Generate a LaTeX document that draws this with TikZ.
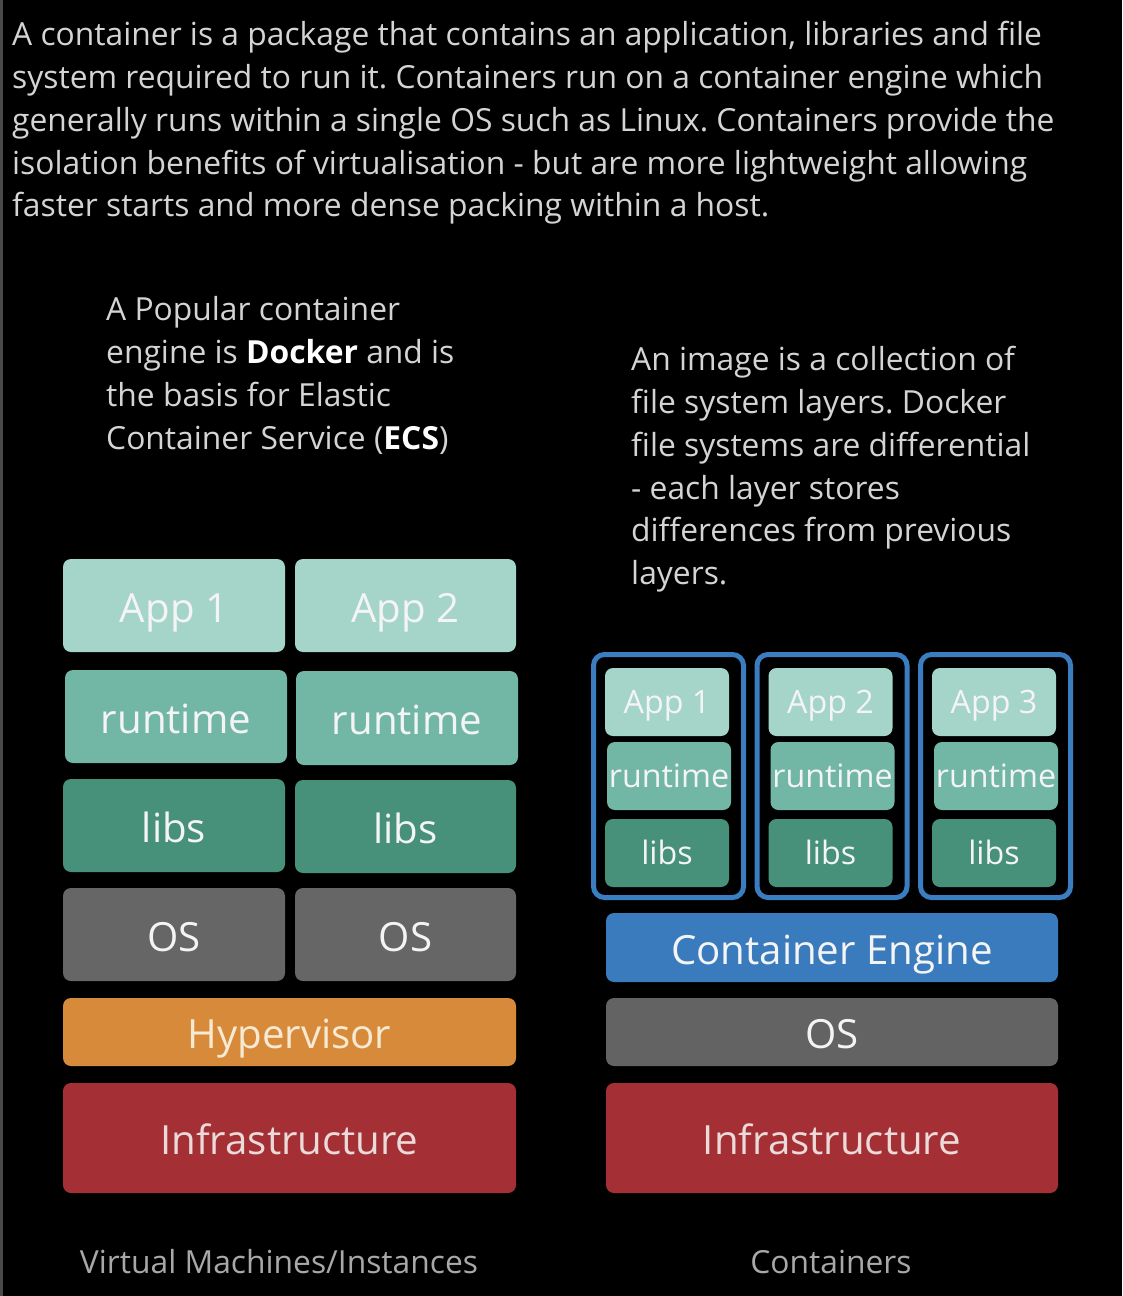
\documentclass[tikz,border=0pt]{standalone}
\usepackage{fontspec}
\setmainfont{Open Sans}
\definecolor{bg}{HTML}{000000}
\definecolor{edge}{HTML}{4A4A4A}
\definecolor{txt}{HTML}{D4D4D4}
\definecolor{lbl}{HTML}{A8A8A8}
\definecolor{appc}{HTML}{A5D5C9}
\definecolor{rtc}{HTML}{72B7A6}
\definecolor{libc}{HTML}{47917B}
\definecolor{osc}{HTML}{666666}
\definecolor{os2c}{HTML}{636363}
\definecolor{hypc}{HTML}{D88A3B}
\definecolor{hyptxt}{HTML}{F6EAD2}
\definecolor{infc}{HTML}{A43035}
\definecolor{inftxt}{HTML}{EADADA}
\definecolor{cec}{HTML}{3A7BBD}
\definecolor{frc}{HTML}{3A7DC0}
\definecolor{boxtxt}{HTML}{F4F4F4}
\frenchspacing
\begin{document}
\begin{tikzpicture}[x=1pt,y=-1pt,
  body/.style={anchor=base west,inner sep=0pt,text=txt,font=\fontsize{31.8}{43}\selectfont},
  layer/.style={rounded corners=8pt,inner sep=0pt,text=boxtxt},
  big/.style={layer,font=\fontsize{40.2}{46}\selectfont,text height=33.7pt,text depth=0pt},
  small/.style={layer,font=\fontsize{32.2}{36}\selectfont,text height=23.5pt,text depth=0pt,minimum width=124pt,minimum height=68pt},
  frame/.style={draw=frc,line width=5pt,rounded corners=11pt,minimum width=150pt,minimum height=243pt,inner sep=0pt},
  foot/.style={anchor=base,inner sep=0pt,text=lbl,font=\fontsize{31.8}{36}\selectfont}]
\fill[bg] (0,0) rectangle (1122,1296);
\useasboundingbox (0,0) rectangle (1122,1296);
\fill[edge] (0,0) rectangle (2.5,1296);
% top paragraph
\node[body] (t1) at (12,45) {A container is a package that contains an application, libraries and file};
\node[body] (t2) at (12,88) {system required to run it. Containers run on a container engine which};
\node[body] (t3) at (12,131) {generally runs within a single OS such as Linux. Containers provide the};
\node[body] (t4) at (12,174) {isolation benefits of virtualisation - but are more lightweight allowing};
\node[body] (t5) at (12,216) {faster starts and more dense packing within a host.};
% left note
\node[body] (l1) at (106,320) {A Popular container};
\node[body] (l2) at (106,363) {engine is {\color{white}\bfseries Docker} and is};
\node[body] (l3) at (106,406) {the basis for Elastic};
\node[body] (l4) at (106,449) {Container Service ({\color{white}\bfseries ECS})};
% right note
\node[body] (r1) at (631,370) {An image is a collection of};
\node[body] (r2) at (631,413) {file system layers. Docker};
\node[body] (r3) at (631,456) {file systems are differential};
\node[body] (r4) at (631,499) {- each layer stores};
\node[body] (r5) at (631,541) {differences from previous};
\node[body] (r6) at (631,584) {layers.};
% left stack
\node[big,fill=appc,minimum width=222pt,minimum height=93pt] (va1) at (174,605.5) {App 1};
\node[big,fill=appc,minimum width=221pt,minimum height=93pt] (va2) at (405.5,605.5) {App 2};
\node[big,fill=rtc,minimum width=222pt,minimum height=93pt] (vr1) at (176,716.5) {runtime};
\node[big,fill=rtc,minimum width=222pt,minimum height=94pt] (vr2) at (407,718) {runtime};
\node[big,fill=libc,minimum width=222pt,minimum height=93pt] (vl1) at (174,825.5) {libs};
\node[big,fill=libc,minimum width=221pt,minimum height=93pt] (vl2) at (405.5,826.5) {libs};
\node[big,fill=osc,minimum width=222pt,minimum height=93pt] (vo1) at (174,934.5) {OS};
\node[big,fill=osc,minimum width=221pt,minimum height=93pt] (vo2) at (405.5,934.5) {OS};
\node[big,fill=hypc,minimum width=453pt,minimum height=68pt,text=hyptxt] (vh) at (289.5,1032) {Hypervisor};
\node[big,fill=infc,minimum width=453pt,minimum height=110pt,text=inftxt] (vi) at (289.5,1138) {Infrastructure};
\node[foot] (vm) at (279,1273) {Virtual Machines/Instances};
% right stack
\foreach \i/\dx in {1/0,2/163.5,3/327}{
  \node[frame] (f\i) at (668.5+\dx,776) {};
  \node[small,fill=appc] (ca\i) at (667+\dx,702) {App \i};
  \node[small,fill=rtc] (cr\i) at (669+\dx,776) {runtime};
  \node[small,fill=libc] (cl\i) at (667+\dx,853) {libs};
}
\node[big,fill=cec,minimum width=452pt,minimum height=69pt] (ce) at (832,947.5) {Container Engine};
\node[big,fill=os2c,minimum width=452pt,minimum height=68pt] (co) at (832,1032) {OS};
\node[big,fill=infc,minimum width=452pt,minimum height=110pt,text=inftxt] (ci) at (832,1138) {Infrastructure};
\node[foot] (cn) at (831,1273) {Containers};
\end{tikzpicture}
\end{document}
